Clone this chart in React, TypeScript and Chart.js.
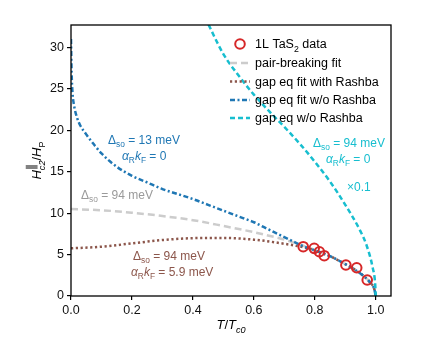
import React, { useEffect, useRef } from "react";
import { Chart, registerables } from "chart.js";
Chart.register(...registerables);

const xTicks = [0, 0.2, 0.4, 0.6, 0.8, 1.0];
const yTicks = [0, 5, 10, 15, 20, 25, 30];

// 1L TaS2 data
const dataT = [0.762, 0.798, 0.815, 0.831, 0.902, 0.9375, 0.972];
const dataH = [5.95, 5.75, 5.34, 4.86, 3.74, 3.41, 1.93];

// pair-breaking fit
const pbT = [0, 0.1, 0.2, 0.3, 0.4, 0.5, 0.6, 0.7, 0.76, 0.8, 0.85, 0.9, 0.95, 0.98, 0.995, 1.0];
const pbH = [10.5, 10.35, 10.05, 9.65, 9.15, 8.45, 7.7, 6.8, 6.1, 5.55, 4.8, 3.85, 2.7, 1.7, 0.85, 0];

// gap eq fit with Rashba
const rT = [0, 0.1, 0.2, 0.3, 0.4, 0.5, 0.6, 0.7, 0.76, 0.8, 0.85, 0.9, 0.95, 0.98, 0.995, 1.0];
const rH = [5.75, 5.95, 6.35, 6.75, 6.98, 7.0, 6.8, 6.3, 5.9, 5.5, 4.8, 3.85, 2.7, 1.7, 0.85, 0];

// gap eq fit w/o Rashba
const nT = [0, 0.002, 0.005, 0.01, 0.02, 0.03, 0.05, 0.075, 0.1, 0.15, 0.2, 0.25, 0.3, 0.35, 0.4, 0.45, 0.5, 0.55, 0.6, 0.65, 0.7, 0.76, 0.8, 0.85, 0.9, 0.95, 0.98, 0.995, 1.0];
const nH = [31, 27, 24.5, 23, 21.5, 20.6, 19.5, 18.3, 17.2, 15.6, 14.5, 13.7, 12.9, 12.3, 11.7, 11.0, 10.3, 9.6, 8.9, 8.0, 7.1, 6.05, 5.5, 4.8, 3.85, 2.7, 1.7, 0.85, 0];

// gap eq w/o Rashba (x0.1)
const cT = [0.44, 0.5, 0.55, 0.6, 0.65, 0.7, 0.75, 0.8, 0.85, 0.9, 0.95, 0.97, 0.99, 0.998, 1.0];
const cH = [33.6, 29.2, 26.6, 24.3, 22.3, 20.4, 18.4, 16.2, 13.8, 11.0, 7.8, 6.1, 3.4, 1.5, 0];

const C_RED = "#d62728";
const C_GREY = "#cccccc";
const C_GREY_TXT = "#9a9a9a";
const C_BROWN = "#8c564b";
const C_BLUE = "#1f77b4";
const C_CYAN = "#17becf";

const DASH_GREY = [7, 4];
const DASH_BROWN = [2.2, 2.6];
const DASH_BLUE = [5, 2.5, 2, 2.5];
const DASH_CYAN = [5, 3];

const FF = '"Liberation Sans", Arial, sans-serif';

type Seg = { t: string; it?: boolean; sub?: boolean; sup?: boolean; noAdv?: boolean; scale?: number };

function segFont(s: Seg, size: number) {
  const sz = s.scale ? size * s.scale : s.sub || s.sup ? size * 0.7 : size;
  return `${s.it ? "italic " : ""}${sz}px ${FF}`;
}
function richWidth(ctx: CanvasRenderingContext2D, segs: Seg[], size: number) {
  let w = 0;
  let pending = 0;
  for (const s of segs) {
    ctx.font = segFont(s, size);
    const m = ctx.measureText(s.t).width;
    if (s.noAdv) pending = m;
    else {
      w += Math.max(m, pending);
      pending = 0;
    }
  }
  return w;
}
function drawRich(ctx: CanvasRenderingContext2D, segs: Seg[], x: number, y: number, size: number, color: string) {
  ctx.save();
  ctx.fillStyle = color;
  ctx.textBaseline = "alphabetic";
  ctx.textAlign = "left";
  let cx = x;
  let pending = 0;
  for (const s of segs) {
    ctx.font = segFont(s, size);
    const w = ctx.measureText(s.t).width;
    const dy = s.sub ? size * 0.28 : s.sup ? -size * 0.5 : 0;
    ctx.fillText(s.t, cx, y + dy);
    if (s.noAdv) pending = w;
    else {
      cx += Math.max(w, pending);
      pending = 0;
    }
  }
  ctx.restore();
}

const dso = (v: string): Seg[] => [{ t: "Δ" }, { t: "so", sub: true }, { t: ` = ${v}` }];
const akf = (v: string): Seg[] => [
  { t: "α", it: true },
  { t: "R", sub: true },
  { t: "k", it: true },
  { t: "F", sub: true },
  { t: ` = ${v}` },
];

const overlay = {
  id: "overlay",
  afterDraw(chart: any) {
    const ctx: CanvasRenderingContext2D = chart.ctx;
    const a = chart.chartArea;
    ctx.save();
    // frame
    ctx.strokeStyle = "#000";
    ctx.lineWidth = 1.3;
    ctx.strokeRect(a.left, a.top, a.right - a.left, a.bottom - a.top);

    // annotations
    const fs = 12;
    drawRich(ctx, dso("13 meV"), 108, 144, fs, C_BLUE);
    drawRich(ctx, akf("0"), 122, 160, fs, C_BLUE);
    drawRich(ctx, dso("94 meV"), 81, 199, fs, C_GREY_TXT);
    drawRich(ctx, dso("94 meV"), 133, 260, fs, C_BROWN);
    drawRich(ctx, akf("5.9 meV"), 131, 276, fs, C_BROWN);
    drawRich(ctx, dso("94 meV"), 313, 147, fs, C_CYAN);
    drawRich(ctx, akf("0"), 326, 163, fs, C_CYAN);
    drawRich(ctx, [{ t: "×0.1" }], 347, 191, fs, C_CYAN);

    // legend
    const lx0 = 230, lx1 = 250, tx = 255;
    const rows = [48, 67, 85.5, 104, 122];
    const lfs = 12.5;
    ctx.beginPath();
    ctx.strokeStyle = C_RED;
    ctx.lineWidth = 2;
    ctx.setLineDash([]);
    ctx.arc(240, rows[0] - 4, 4.8, 0, Math.PI * 2);
    ctx.stroke();
    drawRich(ctx, [{ t: "1L TaS" }, { t: "2", sub: true }, { t: " data" }], tx, rows[0], lfs, "#000");
    const samples: [string, number[], string][] = [
      [C_GREY, DASH_GREY, "pair-breaking fit"],
      [C_BROWN, DASH_BROWN, "gap eq fit with Rashba"],
      [C_BLUE, DASH_BLUE, "gap eq fit w/o Rashba"],
      [C_CYAN, DASH_CYAN, "gap eq w/o Rashba"],
    ];
    samples.forEach(([col, dash, label], i) => {
      const y = rows[i + 1];
      ctx.beginPath();
      ctx.strokeStyle = col;
      ctx.lineWidth = 2.5;
      ctx.lineCap = "butt";
      ctx.setLineDash(dash);
      ctx.moveTo(lx0, y - 4);
      ctx.lineTo(lx1, y - 4);
      ctx.stroke();
      ctx.setLineDash([]);
      drawRich(ctx, [{ t: label }], tx, y, lfs, "#000");
    });

    // x title
    const xt: Seg[] = [{ t: "T", it: true }, { t: "/" }, { t: "T", it: true }, { t: "c0", sub: true, it: true }];
    const xw = richWidth(ctx, xt, 13);
    drawRich(ctx, xt, (a.left + a.right) / 2 - xw / 2, 329, 13, "#000");

    // y title
    const yt: Seg[] = [
      { t: "H", it: true },
      { t: "∥", sup: true, noAdv: true, scale: 0.95 },
      { t: "c2", sub: true, it: true },
      { t: "/" },
      { t: "H", it: true },
      { t: "P", sub: true },
    ];
    const yw = richWidth(ctx, yt, 13);
    ctx.save();
    ctx.translate(41, (a.top + a.bottom) / 2);
    ctx.rotate(-Math.PI / 2);
    drawRich(ctx, yt, -yw / 2, 0, 13, "#000");
    ctx.restore();

    ctx.restore();
  },
};

export default function App() {
  const ref = useRef<HTMLCanvasElement>(null);
  useEffect(() => {
    const canvas = ref.current!;
    const pts = (xs: number[], ys: number[]) => xs.map((x, i) => ({ x, y: ys[i] }));
    const lineDs = (label: string, xs: number[], ys: number[], color: string, dash: number[]) => ({
      label,
      data: pts(xs, ys),
      borderColor: color,
      backgroundColor: color,
      borderWidth: 2.5,
      borderDash: dash,
      borderCapStyle: "butt",
      pointRadius: 0,
      showLine: true,
      fill: false,
      cubicInterpolationMode: "monotone",
    });
    const chart = new Chart(canvas, {
      type: "scatter",
      data: {
        datasets: [
          {
            label: "1L TaS2 data",
            data: pts(dataT, dataH),
            borderColor: C_RED,
            backgroundColor: "rgba(0,0,0,0)",
            borderWidth: 2,
            pointRadius: 4.8,
            pointStyle: "circle",
            showLine: false,
          } as any,
          lineDs("gap eq w/o Rashba", cT, cH, C_CYAN, DASH_CYAN),
          lineDs("gap eq fit w/o Rashba", nT, nH, C_BLUE, DASH_BLUE),
          lineDs("gap eq fit with Rashba", rT, rH, C_BROWN, DASH_BROWN),
          lineDs("pair-breaking fit", pbT, pbH, C_GREY, DASH_GREY),
        ],
      },
      options: {
        responsive: false,
        devicePixelRatio: 1,
        animation: false,
        layout: { padding: { top: 25, right: 45, left: 0, bottom: 0 } },
        plugins: { legend: { display: false }, tooltip: { enabled: false } },
        scales: {
          x: {
            type: "linear",
            min: 0,
            max: 1.05,
            afterFit: (s: any) => {
              s.height = 53;
            },
            afterBuildTicks: (s: any) => {
              s.ticks = xTicks.map((v) => ({ value: v }));
            },
            grid: { display: true, drawOnChartArea: false, drawTicks: true, tickLength: 4, color: "#000", lineWidth: 1.2 },
            border: { display: false },
            ticks: {
              padding: 3,
              color: "#111",
              font: { family: FF, size: 12.5 },
              maxRotation: 0,
              callback: (v: any) => Number(v).toFixed(1),
            },
          },
          y: {
            type: "linear",
            min: 0,
            max: 32.7,
            afterFit: (s: any) => {
              s.width = 71;
            },
            afterBuildTicks: (s: any) => {
              s.ticks = yTicks.map((v) => ({ value: v }));
            },
            grid: { display: true, drawOnChartArea: false, drawTicks: true, tickLength: 4, color: "#000", lineWidth: 1.2 },
            border: { display: false },
            ticks: {
              padding: 3,
              color: "#111",
              font: { family: FF, size: 12.5 },
              callback: (v: any) => String(v),
            },
          },
        },
      } as any,
      plugins: [overlay],
    });
    return () => chart.destroy();
  }, []);
  return (
    <div style={{ position: "fixed", left: 0, top: 0, width: 436, height: 349, background: "#fff" }}>
      <canvas ref={ref} width={436} height={349} style={{ width: 436, height: 349, display: "block" }} />
    </div>
  );
}
